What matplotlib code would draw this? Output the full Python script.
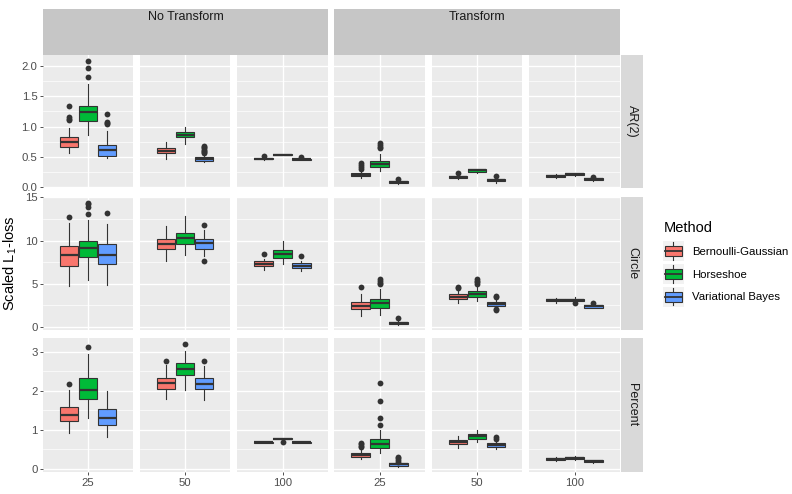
import matplotlib
matplotlib.use("Agg")
import matplotlib.pyplot as plt
from matplotlib.patches import Rectangle, Patch
from matplotlib.lines import Line2D
from matplotlib.legend_handler import HandlerBase

plt.rcParams['font.family'] = ['Liberation Sans', 'DejaVu Sans']
plt.rcParams['mathtext.fontset'] = 'custom'
plt.rcParams['mathtext.rm'] = 'Liberation Sans'
plt.rcParams['mathtext.it'] = 'Liberation Sans:italic'

methods = ["Bernoulli-Gaussian", "Horseshoe", "Variational Bayes"]
colors = ["#F8766D", "#00BA38", "#619CFF"]
groups = ["No Transform", "Transform"]
sizes = ["25", "50", "100"]
rows = ["AR(2)", "Circle", "Percent"]

# whisker low, q1, median, q3, whisker high -- order: No Transform 25/50/100, Transform 25/50/100, each BG, HS, VB
ar2_box = [
    [0.56, 0.66, 0.74, 0.83, 0.98], [0.86, 1.09, 1.24, 1.34, 1.70], [0.49, 0.52, 0.61, 0.69, 0.93],
    [0.46, 0.56, 0.60, 0.645, 0.74], [0.72, 0.83, 0.865, 0.91, 0.995], [0.41, 0.44, 0.465, 0.50, 0.54],
    [0.455, 0.465, 0.472, 0.48, 0.49], [0.53, 0.535, 0.54, 0.547, 0.555], [0.445, 0.455, 0.462, 0.47, 0.48],
    [0.15, 0.18, 0.21, 0.235, 0.27], [0.27, 0.33, 0.39, 0.44, 0.55], [0.06, 0.07, 0.09, 0.10, 0.12],
    [0.14, 0.155, 0.175, 0.195, 0.22], [0.24, 0.257, 0.28, 0.30, 0.31], [0.08, 0.10, 0.12, 0.14, 0.16],
    [0.15, 0.165, 0.185, 0.21, 0.22], [0.195, 0.20, 0.215, 0.236, 0.24], [0.11, 0.12, 0.135, 0.15, 0.16],
]
ar2_out = [
    [1.10, 1.13, 1.15, 1.34], [1.81, 1.96, 2.08], [1.04, 1.06, 1.08, 1.20],
    [], [], [0.56, 0.58, 0.60, 0.62, 0.64, 0.66, 0.68],
    [0.51], [], [0.50],
    [0.30, 0.33, 0.36, 0.40], [0.64, 0.67, 0.70, 0.73], [0.14],
    [0.24], [], [0.18],
    [], [], [0.17],
]

circle_box = [
    [4.73, 7.08, 8.27, 9.31, 12.0], [5.39, 8.07, 9.11, 10.0, 12.39], [4.81, 7.27, 8.35, 9.54, 11.9],
    [7.58, 8.96, 9.62, 10.12, 11.65], [8.35, 9.62, 10.31, 10.89, 12.8], [8.15, 9.04, 9.69, 10.12, 11.27],
    [6.6, 7.0, 7.3, 7.58, 7.9], [7.23, 8.0, 8.47, 8.85, 9.92], [6.5, 6.85, 7.1, 7.38, 7.6],
    [1.27, 2.0, 2.45, 2.88, 3.74], [1.35, 2.23, 2.7, 3.19, 4.43], [0.25, 0.31, 0.45, 0.58, 0.7],
    [2.7, 3.19, 3.45, 3.74, 4.23], [2.96, 3.46, 3.8, 4.15, 4.6], [2.2, 2.42, 2.65, 2.88, 3.2],
    [2.8, 2.96, 3.07, 3.19, 3.35], [2.85, 3.0, 3.15, 3.27, 3.4], [2.15, 2.23, 2.4, 2.5, 2.6],
]
circle_out = [
    [12.77], [13.1, 13.9, 14.2, 14.4], [13.2],
    [], [], [7.58, 11.8],
    [8.38], [], [8.19],
    [4.6], [4.95, 5.1, 5.3, 5.5], [0.97],
    [4.45, 4.6], [4.95, 5.15, 5.35, 5.5], [1.95, 2.05, 3.4, 3.6],
    [], [2.7], [2.77],
]

percent_box = [
    [0.92, 1.23, 1.37, 1.59, 2.02], [1.31, 1.80, 2.02, 2.32, 2.95], [0.80, 1.13, 1.30, 1.52, 2.0],
    [1.78, 2.04, 2.19, 2.32, 2.66], [2.02, 2.40, 2.55, 2.72, 3.02], [1.77, 2.04, 2.17, 2.32, 2.65],
    [0.65, 0.66, 0.67, 0.68, 0.69], [0.74, 0.75, 0.76, 0.78, 0.79], [0.65, 0.66, 0.67, 0.68, 0.69],
    [0.24, 0.30, 0.36, 0.41, 0.50], [0.40, 0.52, 0.64, 0.77, 0.99], [0.05, 0.07, 0.11, 0.14, 0.16],
    [0.54, 0.63, 0.68, 0.73, 0.83], [0.69, 0.77, 0.83, 0.88, 1.0], [0.49, 0.56, 0.61, 0.66, 0.72],
    [0.19, 0.21, 0.24, 0.27, 0.29], [0.23, 0.25, 0.28, 0.30, 0.32], [0.15, 0.16, 0.19, 0.21, 0.23],
]
percent_out = [
    [2.17], [3.12], [],
    [2.76], [3.2], [2.76],
    [], [0.69], [],
    [0.55, 0.58, 0.62, 0.66], [1.12, 1.31, 1.74, 2.19], [0.18, 0.22, 0.26, 0.30],
    [], [], [0.76, 0.80],
    [], [], [],
]

row_boxes = [ar2_box, circle_box, percent_box]
row_outs = [ar2_out, circle_out, percent_out]
row_ylims = [(-0.01, 2.175), (-0.38, 15.05), (-0.09, 3.36)]
row_ticks = [[0, 0.5, 1.0, 1.5, 2.0], [0, 5, 10, 15], [0, 1, 2, 3]]
row_ticklabels = [["0.0", "0.5", "1.0", "1.5", "2.0"], ["0", "5", "10", "15"], ["0", "1", "2", "3"]]

W, H = 792, 494
fig = plt.figure(figsize=(W / 100, H / 100), dpi=100)


def px(x0, y0, x1, y1):
    return [x0 / W, 1 - y1 / H, (x1 - x0) / W, (y1 - y0) / H]


cols_px = [(43, 133), (140, 230), (237, 328), (334, 425), (432, 522), (529, 620)]
rows_px = [(55, 188), (197, 330), (338, 472)]
offsets = [-0.25, 0, 0.25]
edge = "#333333"

for r in range(3):
    lo, hi = row_ylims[r]
    ticks = row_ticks[r]
    minor = [(a + b) / 2 for a, b in zip(ticks[:-1], ticks[1:])]
    for c in range(6):
        ax = fig.add_axes(px(cols_px[c][0], rows_px[r][0], cols_px[c][1], rows_px[r][1]))
        ax.set_facecolor("#EBEBEB")
        for s in ax.spines.values():
            s.set_visible(False)
        ax.set_xlim(-0.6, 0.6)
        ax.set_ylim(lo, hi)
        ax.set_yticks(ticks)
        ax.set_yticks(minor, minor=True)
        ax.set_xticks([0])
        ax.grid(True, which="major", color="white", linewidth=1.0)
        ax.grid(True, which="minor", axis="y", color="white", linewidth=0.5)
        ax.set_axisbelow(True)
        ax.tick_params(which="minor", length=0)
        ax.tick_params(which="major", length=2.5, width=0.6, color=edge, labelcolor="#4D4D4D",
                       labelsize=8.2, pad=1.5)
        if c == 0:
            ax.set_yticklabels(row_ticklabels[r])
        else:
            ax.tick_params(axis="y", length=0, labelleft=False)
        if r == 2:
            ax.set_xticklabels([sizes[c % 3]])
        else:
            ax.tick_params(axis="x", length=0, labelbottom=False)

        stats = []
        for m in range(3):
            b = row_boxes[r][c * 3 + m]
            stats.append(dict(whislo=b[0], q1=b[1], med=b[2], q3=b[3], whishi=b[4],
                              fliers=row_outs[r][c * 3 + m]))
        bp = ax.bxp(stats, positions=offsets, widths=0.24, patch_artist=True, showcaps=False,
                    manage_ticks=False,
                    boxprops=dict(edgecolor=edge, linewidth=0.8),
                    medianprops=dict(color=edge, linewidth=1.6),
                    whiskerprops=dict(color=edge, linewidth=0.8),
                    flierprops=dict(marker="o", markerfacecolor=edge, markeredgecolor="none",
                                    markersize=4.2))
        for patch, col in zip(bp["boxes"], colors):
            patch.set_facecolor(col)

    # right strip
    sax = fig.add_axes(px(621, rows_px[r][0], 643, rows_px[r][1]))
    sax.set_facecolor("#D9D9D9")
    sax.set_xticks([])
    sax.set_yticks([])
    for s in sax.spines.values():
        s.set_visible(False)
    sax.text(0.5, 0.5, rows[r], rotation=-90, ha="center", va="center", fontsize=9,
             color="#1A1A1A", transform=sax.transAxes)

# top nested strips
for g, (x0, x1) in enumerate([(43, 328), (334, 620)]):
    tax = fig.add_axes(px(x0, 9, x1, 55))
    tax.set_facecolor("#C6C6C6")
    tax.set_xticks([])
    tax.set_yticks([])
    for s in tax.spines.values():
        s.set_visible(False)
    tax.text(0.5, 1 - 8.5 / 46, groups[g], ha="center", va="center", fontsize=9,
             color="#1A1A1A", transform=tax.transAxes)

fig.text(10 / W, 1 - 263 / H, "Scaled L$_1$-loss", rotation=90, ha="center", va="center",
         fontsize=10.5, color="black")


class BoxKey(HandlerBase):
    def create_artists(self, legend, orig_handle, xd, yd, width, height, fontsize, trans):
        fc = orig_handle.get_facecolor()
        x0, y0 = -xd, -yd
        bg = Rectangle((x0 - 1, y0 - 2), width + 2, height + 4, facecolor="#F2F2F2",
                       edgecolor="none", transform=trans)
        cx = x0 + width / 2
        wl = Line2D([cx, cx], [y0 - 1, y0 + height + 1], color=edge, linewidth=0.8, transform=trans)
        box = Rectangle((x0 + 0.5, y0 + height * 0.15), width - 1, height * 0.7, facecolor=fc,
                        edgecolor=edge, linewidth=0.8, transform=trans)
        med = Line2D([x0 + 0.5, x0 + width - 0.5], [y0 + height / 2] * 2, color=edge,
                     linewidth=1.3, transform=trans)
        return [bg, wl, box, med]


handles = [Patch(facecolor=col) for col in colors]
leg = fig.legend(handles, methods, handler_map={Patch: BoxKey()}, loc="upper left",
                 bbox_to_anchor=(664 / W, 1 - 221.5 / H), frameon=False, title="Method",
                 title_fontsize=10.5, fontsize=8.2, alignment="left", borderpad=0,
                 handlelength=1.65, handleheight=1.6, handletextpad=0.85, labelspacing=0.72,
                 borderaxespad=0)

fig.savefig("out.png", dpi=100)
